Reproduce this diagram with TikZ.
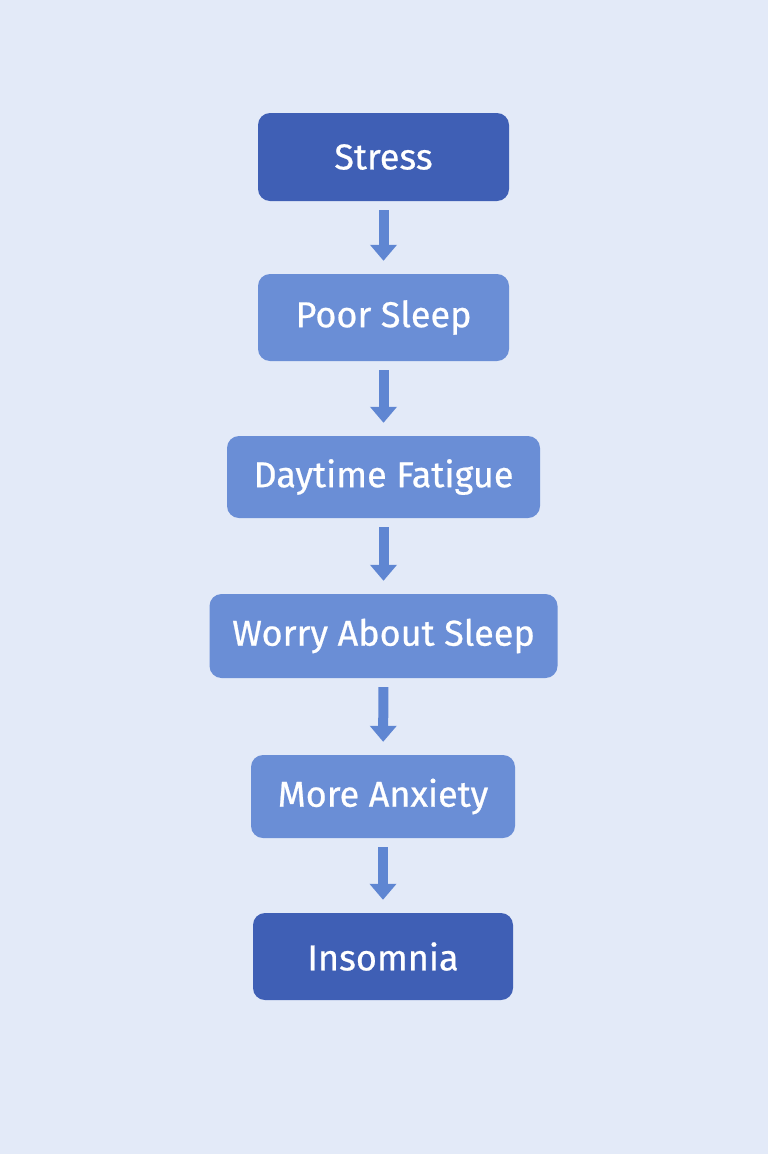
\documentclass[tikz,border=0pt]{standalone}
\usepackage{fontspec}
\setmainfont{Fira Sans}
\newfontfamily\stagefont{Fira Sans}[FakeBold=0.6]
\usetikzlibrary{arrows.meta}
\definecolor{bgblue}{HTML}{E3EAF8}
\definecolor{darkbox}{HTML}{3F5FB5}
\definecolor{lightbox}{HTML}{6A8ED6}
\definecolor{arrowblue}{HTML}{5F86D2}
\begin{document}
\begin{tikzpicture}[x=1pt,y=-1pt,
  stage/.style={rectangle,rounded corners=12pt,fill=lightbox,text=white,
    font=\stagefont\fontsize{36}{42}\selectfont,minimum width=251pt,minimum height=85pt,inner xsep=20pt},
  endstage/.style={stage,fill=darkbox,minimum height=88pt},
  flow/.style={-{Triangle[width=26pt,length=16pt]},line width=10pt,draw=arrowblue,
    shorten <=9pt,shorten >=13pt}]
  % background
  \fill[bgblue] (0,0) rectangle (768,1154);
  \useasboundingbox (0,0) rectangle (768,1154);
  % stages
  \node[endstage] (stress)  at (383.5,157) {Stress};
  \node[stage,minimum height=87pt] (poor) at (383.5,317.5) {Poor Sleep};
  \node[stage,minimum width=313pt,minimum height=82pt] (fatigue) at (383.5,477) {Daytime Fatigue};
  \node[stage,minimum width=348pt,minimum height=84pt] (worry) at (383.5,636) {Worry About Sleep};
  \node[stage,minimum width=264pt,minimum height=83pt] (anxiety) at (383,796.5) {More Anxiety};
  \node[endstage,minimum width=260pt,minimum height=87pt] (insomnia) at (383,956.5) {Insomnia};
  % arrows
  \draw[flow] (stress) -- (poor);
  \draw[flow] (poor) -- (fatigue);
  \draw[flow] (fatigue) -- (worry);
  \draw[flow] (worry) -- (anxiety);
  \draw[flow] (anxiety) -- (insomnia);
\end{tikzpicture}
\end{document}
